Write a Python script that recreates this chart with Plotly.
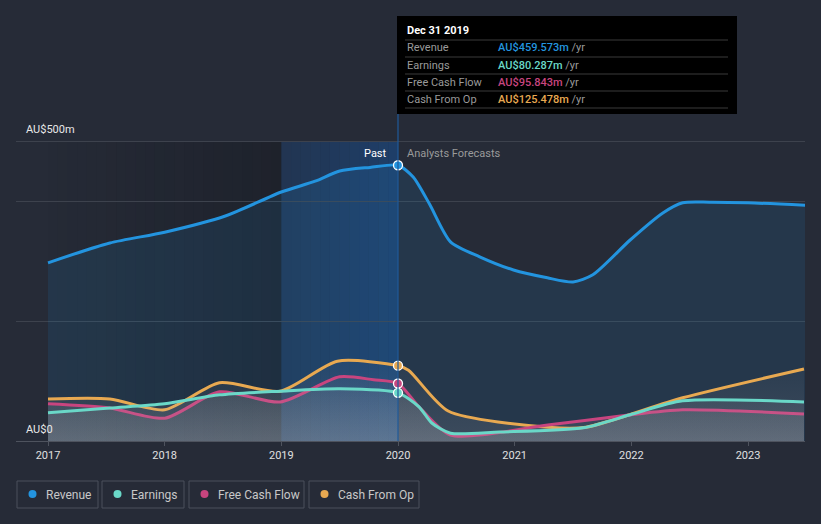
import plotly.graph_objects as go

# ---------------- data (AU$ millions, x in decimal years) ----------------
rev_x = [2017.0, 2017.53, 2018.0, 2018.52, 2019.0, 2019.29, 2019.5, 2019.76, 2020.0,
         2020.13, 2020.27, 2020.45, 2020.70, 2020.99, 2021.28, 2021.5, 2021.67, 2021.99,
         2022.27, 2022.44, 2022.67, 2023.0, 2023.49]
rev_y = [297, 330, 348, 375, 415, 433, 450, 456, 459.573,
         440, 395, 332, 307, 285, 272, 265, 277, 335,
         380, 397, 398, 397, 393]

earn_x = [2017.0, 2017.53, 2018.0, 2018.47, 2018.99, 2019.5, 2020.0,
          2020.18, 2020.29, 2020.45, 2020.87, 2021.59, 2022.01, 2022.44, 2023.48]
earn_y = [47, 55, 62, 77, 83, 87, 80.287,
          57, 30, 13, 15, 22, 45, 67, 65]

fcf_x = [2017.0, 2017.53, 2018.0, 2018.47, 2018.99, 2019.5, 2019.79, 2020.0,
         2020.18, 2020.45, 2021.3, 2021.96, 2022.44, 2023.48]
fcf_y = [62, 55, 38, 82, 65, 107, 102, 95.843,
         57, 10, 27, 43, 52, 45]

cfo_x = [2017.0, 2017.53, 2018.0, 2018.47, 2018.99, 2019.48, 2020.0,
         2020.09, 2020.43, 2021.29, 2021.61, 2022.44, 2023.48]
cfo_y = [70, 70, 52, 97, 83, 133, 125.478,
         118, 50, 23, 23, 72, 120]

series_names = ["Revenue", "Earnings", "Free Cash Flow", "Cash From Op"]
series_vals = ["AU$459.573m", "AU$80.287m", "AU$95.843m", "AU$125.478m"]
year_ticks = [2017, 2018, 2019, 2020, 2021, 2022, 2023]
y_grid = [0, 200, 400, 500]
hover_x = 2020.0
tooltip_title = "Dec 31 2019"

# ---------------- style ----------------
BG = "#262b37"
C_REV = "#2394df"
C_EARN = "#6ad8c8"
C_FCF = "#c8457f"
C_CFO = "#e8a951"
COLORS = [C_REV, C_EARN, C_FCF, C_CFO]
FONT = "Roboto"

W, H = 821, 524
L, R, T, B = 16, 805, 100, 441
X0 = 2017 - (48 - L) / (700 / 6)
X1 = 2017 + (R - 48) / (700 / 6)
YMAX = (B - T) / 0.6


def px(x):
    return (x - L) / (R - L)


def py(y):
    return (B - y) / (B - T)


fig = go.Figure()

# revenue area
fig.add_trace(go.Scatter(x=rev_x, y=rev_y, mode="lines", fill="tozeroy",
                         fillcolor="rgba(35,148,223,0.12)",
                         line=dict(color=C_REV, width=3, shape="spline", smoothing=0.7),
                         hoverinfo="skip", showlegend=False))

grad = dict(type="vertical", start=0, stop=140,
            colorscale=[[0, "rgba(190,190,195,0.15)"], [1, "rgba(190,190,195,0.03)"]])
for xs, ys, c in [(cfo_x, cfo_y, C_CFO), (fcf_x, fcf_y, C_FCF), (earn_x, earn_y, C_EARN)]:
    fig.add_trace(go.Scatter(x=xs, y=ys, mode="lines", fill="tozeroy", fillgradient=grad,
                             line=dict(color=c, width=3, shape="spline", smoothing=0.7),
                             hoverinfo="skip", showlegend=False))

# markers at hovered date
for xs, ys, c in [(rev_x, rev_y, C_REV), (cfo_x, cfo_y, C_CFO),
                  (fcf_x, fcf_y, C_FCF), (earn_x, earn_y, C_EARN)]:
    i = xs.index(hover_x)
    fig.add_trace(go.Scatter(x=[xs[i]], y=[ys[i]], mode="markers",
                             marker=dict(color=c, size=9, line=dict(color="white", width=1.3)),
                             hoverinfo="skip", showlegend=False))

shapes = []
# past darkening gradient 2017 -> 2019
n = 24
for k in range(n):
    xa = 2017 + 2 * k / n
    xb = 2017 + 2 * (k + 1) / n
    shapes.append(dict(type="rect", xref="x", yref="y", x0=xa, x1=xb, y0=0, y1=500,
                       fillcolor="rgba(10,12,16,%.3f)" % (0.28 * (k + 0.5) / n),
                       line=dict(width=0), layer="below"))
# hover band 2019 -> 2020
m = 12
for k in range(m):
    xa = 2019 + k / m
    xb = 2019 + (k + 1) / m
    shapes.append(dict(type="rect", xref="x", yref="y", x0=xa, x1=xb, y0=0, y1=500,
                       fillcolor="rgba(20,90,175,%.3f)" % (0.22 + 0.2 * (k + 0.5) / m),
                       line=dict(width=0), layer="below"))
# hover line
shapes.append(dict(type="line", xref="x", yref="paper", x0=hover_x, x1=hover_x,
                   y0=0, y1=py(114), line=dict(color="#1f5a9a", width=1.2)))

# tooltip box
shapes.append(dict(type="rect", xref="paper", yref="paper", x0=px(397), x1=px(737),
                   y0=py(114), y1=py(16), fillcolor="#000000", line=dict(width=0)))
for yy in [40, 57, 74, 91, 108]:
    shapes.append(dict(type="line", xref="paper", yref="paper", x0=px(405), x1=px(728),
                       y0=py(yy), y1=py(yy), line=dict(color="#3a3a3a", width=1)))

annotations = []
annotations.append(dict(xref="paper", yref="paper", x=px(405), y=py(31), xanchor="left",
                        yanchor="middle", text="<b>%s</b>" % tooltip_title, showarrow=False,
                        font=dict(family=FONT, size=11, color="white")))
for j, (nm, val, c) in enumerate(zip(series_names, series_vals, COLORS)):
    yy = 48 + 17 * j
    annotations.append(dict(xref="paper", yref="paper", x=px(405), y=py(yy), xanchor="left",
                            yanchor="middle", text=nm, showarrow=False,
                            font=dict(family=FONT, size=11, color="#9a9a9a")))
    annotations.append(dict(xref="paper", yref="paper", x=px(496), y=py(yy), xanchor="left",
                            yanchor="middle",
                            text="<span style='color:%s;font-weight:500'>%s</span> <span style='color:#9a9a9a'>/yr</span>" % (c, val),
                            showarrow=False, font=dict(family=FONT, size=11, color=c)))

# axis value labels
annotations.append(dict(xref="paper", yref="paper", x=px(24), y=py(129), xanchor="left",
                        yanchor="middle", text="AU$500m", showarrow=False,
                        font=dict(family=FONT, size=11, color="#e8e8e8")))
annotations.append(dict(xref="paper", yref="paper", x=px(24), y=py(429), xanchor="left",
                        yanchor="middle", text="AU$0", showarrow=False,
                        font=dict(family=FONT, size=11, color="#e8e8e8")))
# past / forecast labels
annotations.append(dict(xref="paper", yref="paper", x=px(389), y=py(153), xanchor="right",
                        yanchor="middle", text="Past", showarrow=False,
                        font=dict(family=FONT, size=11, color="#ffffff")))
annotations.append(dict(xref="paper", yref="paper", x=px(405), y=py(153), xanchor="left",
                        yanchor="middle", text="Analysts Forecasts", showarrow=False,
                        font=dict(family=FONT, size=11, color="#9a9a9a")))

# legend boxes
leg_boxes = [(17, 98), (102, 184), (189, 304), (309, 419)]
for (xa, xb), nm, c in zip(leg_boxes, series_names, COLORS):
    shapes.append(dict(type="rect", xref="paper", yref="paper", x0=px(xa), x1=px(xb),
                       y0=py(508), y1=py(481), line=dict(color="#4a505c", width=1),
                       fillcolor="rgba(0,0,0,0)"))
    shapes.append(dict(type="circle", xref="paper", yref="paper",
                       x0=px(xa + 11.5), x1=px(xa + 19.5), y0=py(498), y1=py(490),
                       fillcolor=c, line=dict(width=0)))
    annotations.append(dict(xref="paper", yref="paper", x=px(xa + 27), y=py(494.5),
                            xanchor="left", yanchor="middle", text=nm, showarrow=False,
                            font=dict(family=FONT, size=12, color="#c8c8c8")))

fig.update_layout(
    width=W, height=H,
    margin=dict(l=L, r=W - R, t=T, b=H - B),
    paper_bgcolor=BG, plot_bgcolor=BG,
    showlegend=False, hovermode=False,
    shapes=shapes, annotations=annotations,
    xaxis=dict(range=[X0, X1], tickvals=year_ticks, ticktext=[str(v) for v in year_ticks],
               showgrid=False, zeroline=False, showline=True, linecolor="#4e535e",
               linewidth=1, ticks="outside", ticklen=4, tickcolor="#4e535e",
               tickfont=dict(family=FONT, size=11, color="#e0e0e0")),
    yaxis=dict(range=[0, YMAX], tickvals=y_grid, showticklabels=False,
               showgrid=True, gridcolor="#3d424d", gridwidth=1, zeroline=False,
               fixedrange=True),
)

fig.write_html("out.html", config=dict(displayModeBar=False))
